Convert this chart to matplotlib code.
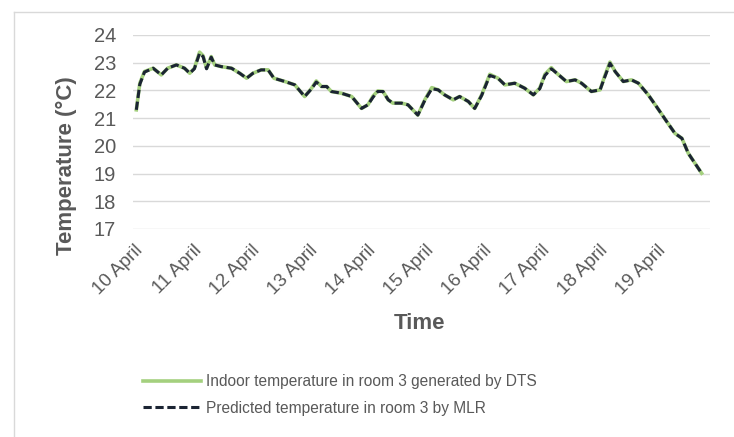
import numpy as np
import matplotlib.pyplot as plt
from matplotlib.lines import Line2D

plt.rcParams['font.family'] = ['Liberation Sans', 'DejaVu Sans']

# days after 10 April 00:00
days = [0.03, 0.09, 0.17, 0.32, 0.46, 0.57, 0.72, 0.86, 0.95, 1.03, 1.12, 1.18,
        1.24, 1.32, 1.38, 1.49, 1.67, 1.81, 1.93, 2.04, 2.18, 2.30, 2.40, 2.59,
        2.76, 2.93, 3.05, 3.13, 3.22, 3.31, 3.39, 3.56, 3.74, 3.91, 4.02, 4.11,
        4.19, 4.28, 4.37, 4.45, 4.60, 4.71, 4.88, 5.00, 5.12, 5.23, 5.34, 5.49,
        5.60, 5.75, 5.86, 5.98, 6.12, 6.26, 6.38, 6.55, 6.72, 6.87, 6.98, 7.07,
        7.18, 7.24, 7.44, 7.59, 7.70, 7.87, 8.02, 8.10, 8.19, 8.28, 8.42, 8.56,
        8.68, 8.85, 8.99, 9.17, 9.31, 9.43, 9.54, 9.77]

dts = [21.30, 22.26, 22.68, 22.80, 22.56, 22.80, 22.92, 22.80, 22.62, 22.80, 23.38, 23.25,
       22.80, 23.22, 22.92, 22.86, 22.80, 22.62, 22.44, 22.62, 22.74, 22.74, 22.44, 22.32,
       22.20, 21.78, 22.08, 22.34, 22.14, 22.14, 21.96, 21.90, 21.78, 21.35, 21.48, 21.80,
       21.98, 21.96, 21.66, 21.54, 21.54, 21.48, 21.11, 21.66, 22.10, 22.02, 21.84, 21.66,
       21.78, 21.60, 21.35, 21.84, 22.58, 22.44, 22.20, 22.26, 22.08, 21.84, 22.08, 22.58,
       22.82, 22.68, 22.32, 22.38, 22.26, 21.96, 22.02, 22.52, 23.02, 22.68, 22.32, 22.38,
       22.26, 21.84, 21.42, 20.87, 20.45, 20.27, 19.73, 19.01]

mlr = [21.30, 22.22, 22.66, 22.80, 22.56, 22.80, 22.92, 22.80, 22.62, 22.78, 23.34, 23.22,
       22.78, 23.20, 22.92, 22.86, 22.80, 22.62, 22.44, 22.62, 22.74, 22.74, 22.44, 22.32,
       22.20, 21.78, 22.06, 22.30, 22.14, 22.14, 21.96, 21.90, 21.78, 21.35, 21.48, 21.76,
       21.96, 21.96, 21.66, 21.54, 21.54, 21.48, 21.11, 21.64, 22.06, 22.02, 21.84, 21.66,
       21.78, 21.60, 21.35, 21.82, 22.54, 22.44, 22.20, 22.26, 22.08, 21.84, 22.06, 22.54,
       22.78, 22.68, 22.32, 22.38, 22.26, 21.96, 22.02, 22.48, 22.98, 22.68, 22.32, 22.38,
       22.26, 21.84, 21.42, 20.87, 20.45, 20.27, 19.73, 19.01]

tick_labels = ['10 April', '11 April', '12 April', '13 April', '14 April',
               '15 April', '16 April', '17 April', '18 April', '19 April']
y_ticks = [17, 18, 19, 20, 21, 22, 23, 24]

grey = '#595959'

fig = plt.figure(figsize=(7.34, 4.37), dpi=100)
ax = fig.add_axes([0.181, 0.476, 0.786, 0.444])

l1, = ax.plot(days, dts, color='#A4D07E', lw=2.6,
              label='Indoor temperature in room 3 generated by DTS')
l2, = ax.plot(days, mlr, color='#1B2433', lw=2.2, dashes=(2.7, 1.2),
              label='Predicted temperature in room 3 by MLR')

ax.set_xlim(-0.03, 9.91)
ax.set_ylim(17, 24)
ax.set_yticks(y_ticks)
ax.set_xticks(np.arange(len(tick_labels)))
ax.set_xticklabels(tick_labels, rotation=45, ha='right', va='top',
                   rotation_mode='anchor', fontsize=13.5, color=grey)
ax.tick_params(axis='y', labelsize=14.5, labelcolor=grey, length=0, pad=12)
ax.tick_params(axis='x', length=0, pad=9)
ax.grid(axis='y', color='#D9D9D9', lw=1)
ax.set_axisbelow(True)
for s in ax.spines.values():
    s.set_visible(False)

ax.set_ylabel('Temperature (°C)', fontsize=16, fontweight='bold', color=grey)
ax.yaxis.set_label_coords(-0.097, 0.325)
fig.text(0.572, 0.26, 'Time', fontsize=16, fontweight='bold', color=grey,
         ha='center', va='center')

fig.legend(handles=[l1, l2], loc='upper left', bbox_to_anchor=(0.187, 0.158),
           frameon=False, fontsize=11.2, labelcolor=grey, handlelength=3.7,
           handletextpad=0.35, labelspacing=0.75, borderaxespad=0)

# light frame of the original chart box
fig.add_artist(Line2D([0.019, 0.019], [0, 0.973], color='#D9D9D9', lw=1))
fig.add_artist(Line2D([0.019, 1.0], [0.973, 0.973], color='#D9D9D9', lw=1))

fig.savefig('out.png', dpi=100)
